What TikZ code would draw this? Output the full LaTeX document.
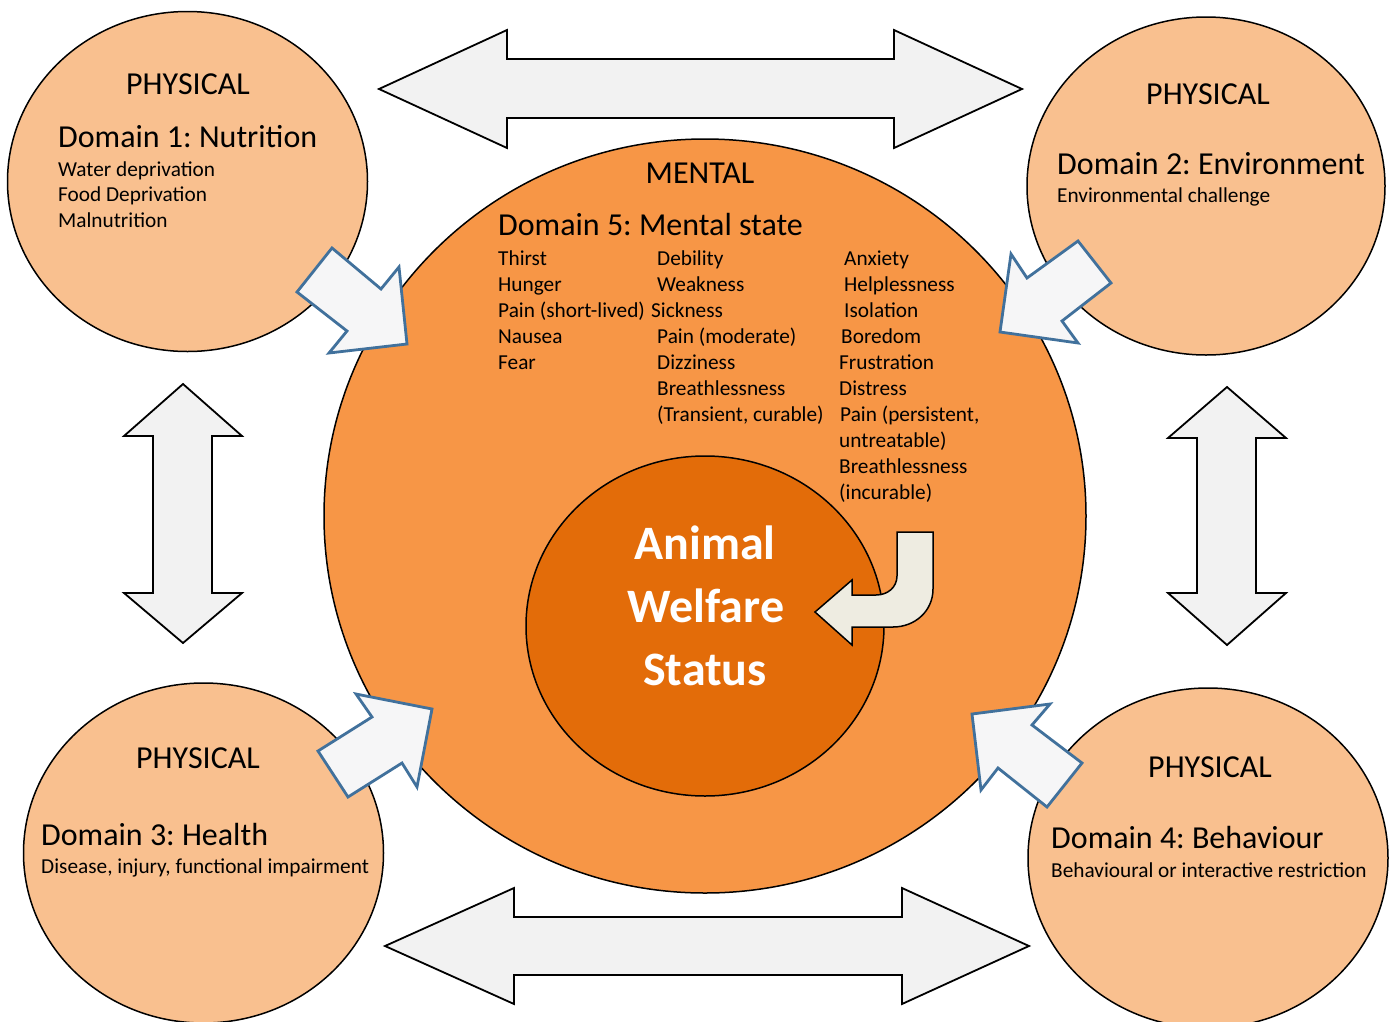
\documentclass[tikz,border=0pt]{standalone}
\usepackage{fontspec}
\setmainfont{Carlito}
\frenchspacing

\definecolor{physfill}{HTML}{F9C08F}
\definecolor{mentfill}{HTML}{F79646}
\definecolor{corefill}{HTML}{E36C09}
\definecolor{arrowgray}{HTML}{F2F2F2}
\definecolor{inarrowfill}{HTML}{F6F6F7}
\definecolor{inarrowline}{HTML}{41719C}
\definecolor{turnfill}{HTML}{EEECE1}

\begin{document}
\begin{tikzpicture}[x=1pt,y=-1pt,
  phys/.style={fill=physfill,draw=black,line width=1.5pt},
  dblarrow/.style={fill=arrowgray,draw=black,line width=1.8pt,line join=miter},
  inarrow/.style={fill=inarrowfill,draw=inarrowline,line width=2.8pt,line join=miter},
  small/.style={font=\fontsize{21.3}{25}\selectfont,inner sep=0pt},
  big/.style={font=\fontsize{32}{38}\selectfont,inner sep=0pt},
  core/.style={font=\fontsize{48}{58}\selectfont\bfseries,text=white,inner sep=0pt}]
\useasboundingbox (0,0) rectangle (1393,1021);

% physical domains
\filldraw[phys] (187.5,181.5) ellipse [x radius=180pt, y radius=170pt];
\filldraw[phys] (1206,186) ellipse [x radius=179pt, y radius=169pt];
\filldraw[phys] (203.5,853) ellipse [x radius=180pt, y radius=170pt];
\filldraw[phys] (1208,858) ellipse [x radius=180pt, y radius=170pt];
% mental domain and core
\filldraw[fill=mentfill,draw=black,line width=1.5pt] (705,516) ellipse [x radius=381pt, y radius=377pt];
\filldraw[fill=corefill,draw=black,line width=1.5pt] (705,626) ellipse [x radius=179pt, y radius=170pt];

% arrows into the mental domain
\filldraw[inarrow] (332,248) -- (381,289) -- (399,267) -- (407,344) -- (329,353) -- (347,331) -- (297,292) -- cycle;
\filldraw[inarrow] (1078,241) -- (1111,283) -- (1062,321) -- (1078,343) -- (1000,332) -- (1011,254) -- (1027,278) -- cycle;
\filldraw[inarrow] (318,751) -- (372,717) -- (356,694) -- (432,709) -- (417,787) -- (402,763) -- (348,797) -- cycle;
\filldraw[inarrow] (1082,763) -- (1032,725) -- (1050,704) -- (972,714) -- (981,790) -- (998,768) -- (1047,807) -- cycle;

% double arrows between the physical domains
\filldraw[dblarrow] (379,89) -- (507,30) -- (507,59) -- (894,59) -- (894,30) -- (1022,89)
  -- (894,148) -- (894,118) -- (507,118) -- (507,148) -- cycle;
\filldraw[dblarrow] (385,946) -- (514,888) -- (514,917) -- (902,917) -- (902,888) -- (1029,946)
  -- (902,1004) -- (902,975) -- (514,975) -- (514,1004) -- cycle;
\filldraw[dblarrow] (183,384) -- (242,436) -- (212,436) -- (212,593) -- (242,593) -- (183,643)
  -- (124,593) -- (153,593) -- (153,436) -- (124,436) -- cycle;
\filldraw[dblarrow] (1227,387) -- (1286,438) -- (1256,438) -- (1256,593) -- (1286,593) -- (1227,645)
  -- (1168,593) -- (1197,593) -- (1197,438) -- (1168,438) -- cycle;

% turn arrow onto the core
\filldraw[fill=turnfill,draw=black,line width=1.5pt,line join=miter]
  (897,532) -- (933,532) -- (933,589) .. controls (933,611) and (915,627) .. (893,627)
  -- (852,627) -- (852,645) -- (815,612) -- (852,580) -- (852,595) -- (876,595)
  .. controls (888,595) and (897,587) .. (897,576) -- cycle;

% Domain 1
\node[big,anchor=base] (phys1) at (188,94) {PHYSICAL};
\node[big,anchor=base west] (dom1) at (58,147) {Domain 1: Nutrition};
\node[small,anchor=base west] (dom1a) at (58,176) {Water deprivation};
\node[small,anchor=base west] (dom1b) at (58,201) {Food Deprivation};
\node[small,anchor=base west] (dom1c) at (58,227) {Malnutrition};
% Domain 2
\node[big,anchor=base] (phys2) at (1208,104) {PHYSICAL};
\node[big,anchor=base west] (dom2) at (1057,174) {Domain 2: Environment};
\node[small,anchor=base west] (dom2a) at (1057,202) {Environmental challenge};
% Domain 3
\node[big,anchor=base] (phys3) at (198,768) {PHYSICAL};
\node[big,anchor=base west] (dom3) at (41,845) {Domain 3: Health};
\node[small,anchor=base west] (dom3a) at (41,873) {Disease, injury, functional impairment};
% Domain 4
\node[big,anchor=base] (phys4) at (1210,777) {PHYSICAL};
\node[big,anchor=base west] (dom4) at (1051,848) {Domain 4: Behaviour};
\node[small,anchor=base west] (dom4a) at (1051,877) {Behavioural or interactive restriction};

% Domain 5
\node[big,anchor=base] (ment) at (700,183) {MENTAL};
\node[big,anchor=base west] (dom5) at (498,235) {Domain 5: Mental state};
\node[small,anchor=base west] (thirst) at (498,265) {Thirst};
\node[small,anchor=base west] (hunger) at (498,291) {Hunger};
\node[small,anchor=base west] (painshort) at (498,317) {Pain (short-lived)};
\node[small,anchor=base west] (nausea) at (498,343) {Nausea};
\node[small,anchor=base west] (fear) at (498,369) {Fear};
\node[small,anchor=base west] (debility) at (657,265) {Debility};
\node[small,anchor=base west] (weakness) at (657,291) {Weakness};
\node[small,anchor=base west] (sickness) at (651,317) {Sickness};
\node[small,anchor=base west] (painmod) at (657,343) {Pain (moderate)};
\node[small,anchor=base west] (dizzy) at (657,369) {Dizziness};
\node[small,anchor=base west] (breath) at (657,395) {Breathlessness};
\node[small,anchor=base west] (transient) at (657,421) {(Transient, curable)};
\node[small,anchor=base west] (anxiety) at (844,265) {Anxiety};
\node[small,anchor=base west] (helpless) at (844,291) {Helplessness};
\node[small,anchor=base west] (isolation) at (844,317) {Isolation};
\node[small,anchor=base west] (boredom) at (841,343) {Boredom};
\node[small,anchor=base west] (frustr) at (839,369) {Frustration};
\node[small,anchor=base west] (distress) at (839,395) {Distress};
\node[small,anchor=base west] (painpers) at (840,421) {Pain (persistent,};
\node[small,anchor=base west] (untreat) at (839,447) {untreatable)};
\node[small,anchor=base west] (breathinc) at (839,473) {Breathlessness};
\node[small,anchor=base west] (incurable) at (839,499) {(incurable)};

% core
\node[core,anchor=base] (animal) at (705,559) {Animal};
\node[core,anchor=base] (welfare) at (706,622) {Welfare};
\node[core,anchor=base] (status) at (705,685) {Status};
\end{tikzpicture}
\end{document}
